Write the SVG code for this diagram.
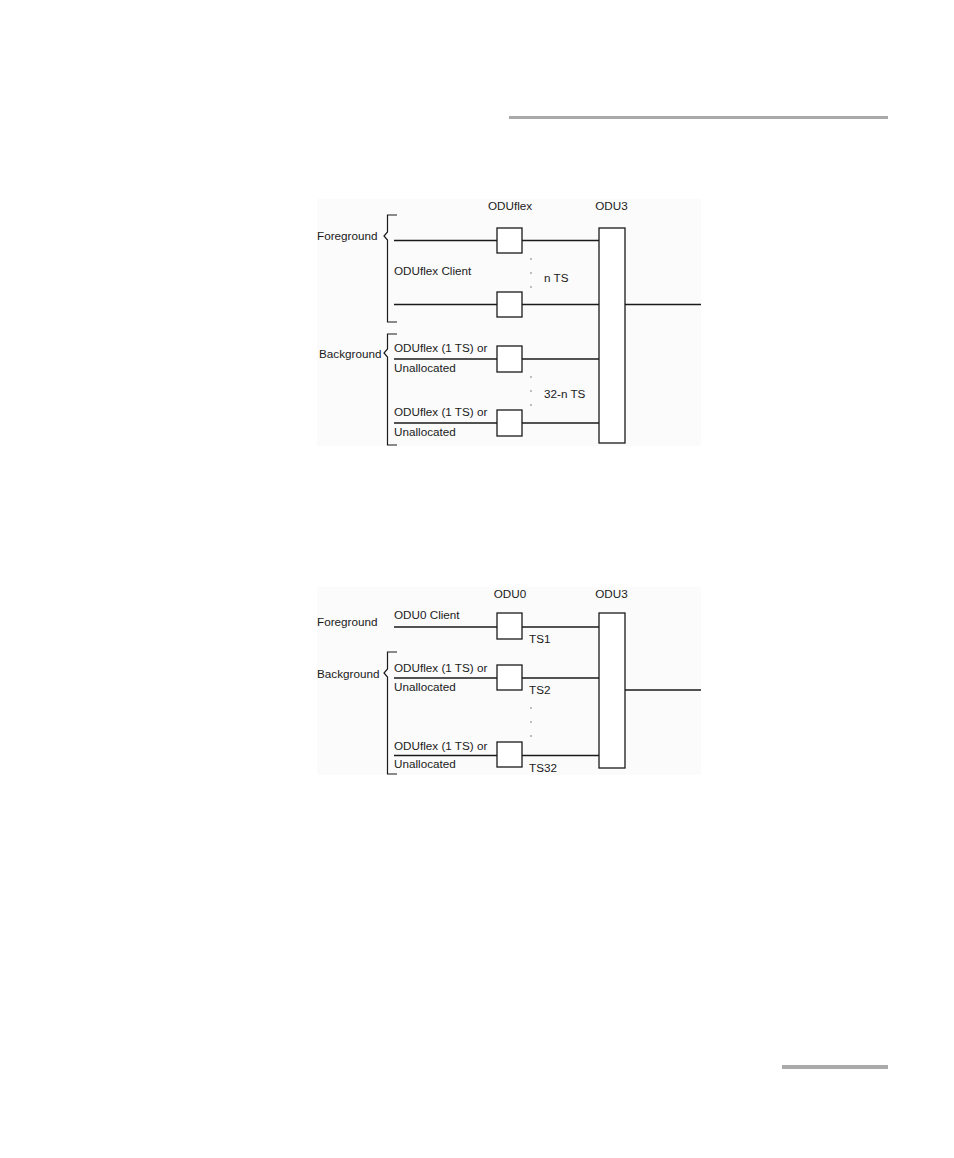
<svg xmlns="http://www.w3.org/2000/svg" width="954" height="1158" viewBox="0 0 954 1158">
<style>
text{font-family:"Liberation Sans",Arial,sans-serif;font-size:11.7px;fill:#1a1a1a}
.ln{stroke:#1a1a1a;stroke-width:1.3;fill:none}
.bx{stroke:#1a1a1a;stroke-width:1.3;fill:#fff}
.br{stroke:#1a1a1a;stroke-width:1.2;fill:none}
.dot{fill:#555}
</style>
<rect width="954" height="1158" fill="#fff"/>
<rect x="509" y="116" width="379" height="3" fill="#aaa"/>
<rect x="782" y="1065" width="106" height="4" fill="#aaa"/>

<g id="diagram1">
<rect x="317" y="199" width="384" height="247" fill="#fbfbfb"/>
<g id="connectors1">
<line class="ln" x1="394" y1="240.5" x2="599" y2="240.5"/>
<line class="ln" x1="394" y1="304.5" x2="701" y2="304.5"/>
<line class="ln" x1="394" y1="359" x2="599" y2="359"/>
<line class="ln" x1="394" y1="423" x2="599" y2="423"/>
</g>
<g id="fg1">
<path class="br" d="M397,215 H387.5 V232 L384,236 L387.5,240 V322 H397"/>
<text x="317" y="240">Foreground</text>
<text x="394" y="275">ODUflex Client</text>
</g>
<g id="bg1">
<path class="br" d="M397,334 H387.5 V349 L384,353 L387.5,357 V445 H397"/>
<text x="319" y="358">Background</text>
<text x="394" y="352">ODUflex (1 TS) or</text>
<text x="394" y="372">Unallocated</text>
<text x="394" y="416">ODUflex (1 TS) or</text>
<text x="394" y="436">Unallocated</text>
</g>
<g id="oduflex">
<text x="510" y="210" text-anchor="middle">ODUflex</text>
<rect class="bx" x="497" y="228" width="25" height="25"/>
<rect class="bx" x="497" y="292" width="25" height="25"/>
<rect class="bx" x="497" y="346" width="25" height="26"/>
<rect class="bx" x="497" y="410" width="25" height="26"/>
<circle class="dot" cx="531" cy="259" r="0.7"/>
<circle class="dot" cx="531" cy="273" r="0.7"/>
<circle class="dot" cx="531" cy="287" r="0.7"/>
<text x="544" y="282">n TS</text>
<circle class="dot" cx="531" cy="377" r="0.7"/>
<circle class="dot" cx="531" cy="391" r="0.7"/>
<circle class="dot" cx="531" cy="405" r="0.7"/>
<text x="544" y="398">32-n TS</text>
</g>
<g id="odu3a">
<text x="611.5" y="210" text-anchor="middle">ODU3</text>
<rect class="bx" x="599" y="228" width="26" height="215"/>
</g>
</g>

<g id="diagram2">
<rect x="317" y="587" width="384" height="188" fill="#fbfbfb"/>
<g id="connectors2">
<line class="ln" x1="394" y1="627" x2="599" y2="627"/>
<line class="ln" x1="394" y1="678" x2="599" y2="678"/>
<line class="ln" x1="394" y1="755.5" x2="599" y2="755.5"/>
<line class="ln" x1="625" y1="690" x2="701" y2="690"/>
</g>
<g id="fg2">
<text x="317" y="626">Foreground</text>
<text x="394" y="619">ODU0 Client</text>
</g>
<g id="bg2">
<path class="br" d="M397,652 H387.5 V669 L384,673 L387.5,677 V774 H397"/>
<text x="317" y="678">Background</text>
<text x="394" y="672">ODUflex (1 TS) or</text>
<text x="394" y="691">Unallocated</text>
<text x="394" y="750">ODUflex (1 TS) or</text>
<text x="394" y="768">Unallocated</text>
</g>
<g id="odu0">
<text x="510" y="598" text-anchor="middle">ODU0</text>
<rect class="bx" x="497" y="613" width="25" height="26"/>
<rect class="bx" x="497" y="665" width="25" height="25"/>
<rect class="bx" x="497" y="742" width="25" height="25"/>
<text x="529" y="643">TS1</text>
<text x="529" y="694">TS2</text>
<circle class="dot" cx="531" cy="708" r="0.7"/>
<circle class="dot" cx="531" cy="722" r="0.7"/>
<circle class="dot" cx="531" cy="736" r="0.7"/>
<text x="529" y="772">TS32</text>
</g>
<g id="odu3b">
<text x="611.5" y="598" text-anchor="middle">ODU3</text>
<rect class="bx" x="599" y="613" width="26" height="155"/>
</g>
</g>
</svg>
